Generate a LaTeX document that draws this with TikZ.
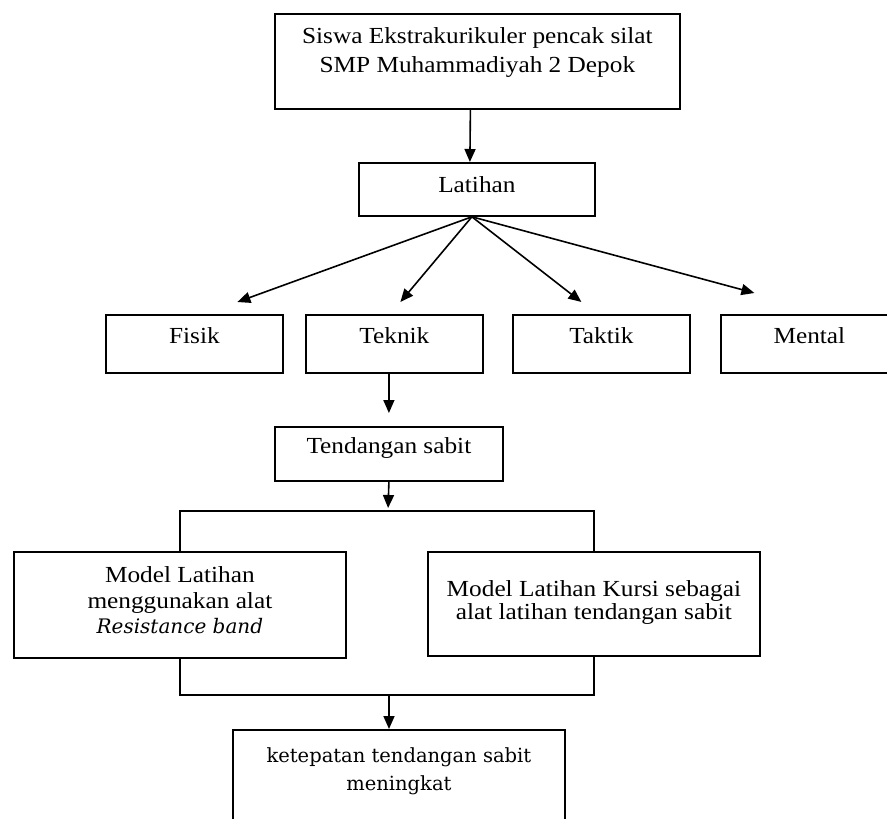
\documentclass[tikz,border=0pt]{standalone}
\usepackage{fontspec}
\setmainfont{Liberation Serif}[FakeStretch=1.1]
\newfontfamily\cambriafont{DejaVu Serif}
\usetikzlibrary{arrows.meta}
% box contents: width, height, first baseline, text
\newcommand{\boxtxt}[4]{\parbox[c][#2][t]{#1}{\centering\rule{0pt}{#3}#4\par}}
\tikzset{
  box/.style={draw,line width=1.8pt,inner sep=0pt,anchor=north west},
  arr/.style={-{Triangle[width=11pt,length=13pt]},line width=1.6pt},
  link/.style={line width=1.6pt}
}
\begin{document}
\begin{tikzpicture}[x=1pt,y=1pt]
		\clip (0,0) rectangle (887,-819);
		%
		\node[box] (siswa) at (274,-13) {\boxtxt{405pt}{95pt}{30pt}{\fontsize{23}{29}\selectfont Siswa Ekstrakurikuler pencak silat\\ SMP Muhammadiyah 2 Depok}};
		\node[box] (lat) at (358,-162) {\boxtxt{236pt}{53pt}{30pt}{\fontsize{23}{29}\selectfont Latihan}};
		%
		\node[box] (fisik) at (105,-314) {\boxtxt{177pt}{58pt}{29pt}{\fontsize{23}{29}\selectfont Fisik}};
		\node[box] (teknik) at (305,-314) {\boxtxt{177pt}{58pt}{29pt}{\fontsize{23}{29}\selectfont Teknik}};
		\node[box] (taktik) at (512,-314) {\boxtxt{177pt}{58pt}{29pt}{\fontsize{23}{29}\selectfont Taktik}};
		\node[box] (mental) at (720,-314) {\boxtxt{177pt}{58pt}{29pt}{\fontsize{23}{29}\selectfont Mental}};
		%
		\node[box] (tend) at (274,-426) {\boxtxt{228pt}{54pt}{27pt}{\fontsize{23}{29}\selectfont Tendangan sabit}};
		%
		\node[box] (mlb) at (13,-551) {\boxtxt{332pt}{106pt}{31pt}{\fontsize{23}{25.5}\selectfont Model Latihan\\ menggunakan alat\\ {\cambriafont\itshape\fontsize{20}{25.5}\selectfont Resistance band}}};
		\node[box] (mkr) at (427,-551) {\boxtxt{332pt}{104pt}{45pt}{\fontsize{23}{23}\selectfont Model Latihan Kursi sebagai\\ alat latihan tendangan sabit}};
		%
		\node[box] (hasil) at (232,-729) {\boxtxt{332pt}{105pt}{33pt}{\cambriafont\fontsize{19.5}{28}\selectfont ketepatan tendangan sabit\\ meningkat}};
		%
		\coordinate (fan) at ([xshift=-5pt]lat.south);
		\coordinate (split) at (388,-511);
		\coordinate (join) at (389,-695);
		%
		\draw[arr] ([xshift=-7pt]siswa.south) -- ([xshift=-7pt]lat.north);
		\draw[arr] (fan) -- ([shift={(43pt,12pt)}]fisik.north);
		\draw[arr] (fan) -- ([shift={(6pt,12pt)}]teknik.north);
		\draw[arr] (fan) -- ([shift={(-20pt,12pt)}]taktik.north);
		\draw[arr] (fan) -- ([shift={(-55pt,21pt)}]mental.north);
		%
		\draw[arr] (teknik.south -| tend.north) -- ([yshift=13pt]tend.north);
		\draw[arr,shorten >=3pt] (tend.south) -- (split);
		\draw[link] (mlb.north) |- (split) -| (mkr.north);
		%
		\draw[link] (mlb.south) |- (join) -| (mkr.south);
		\draw[arr] (join) -- (join |- hasil.north);
	\end{tikzpicture}
\end{document}
